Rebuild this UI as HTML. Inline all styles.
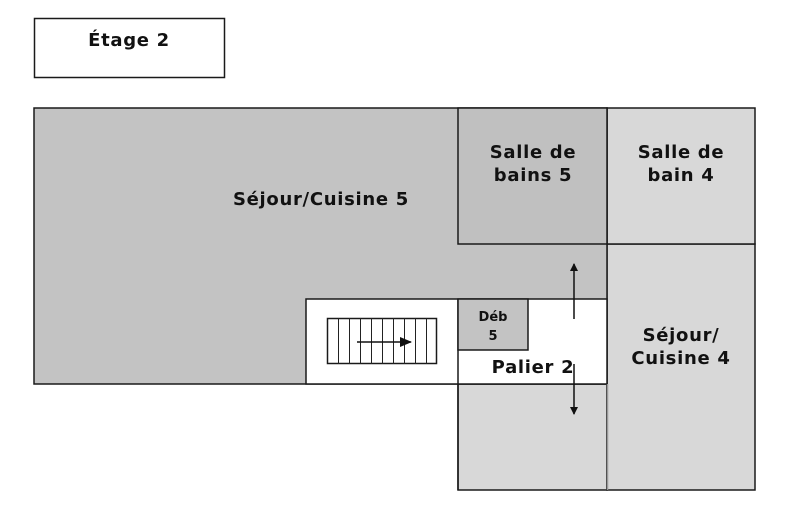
<!DOCTYPE html>
<html><head><meta charset="utf-8"><style>
html,body{margin:0;padding:0;background:#fff;width:800px;height:524px;overflow:hidden}
text{font-family:"DejaVu Sans","Liberation Sans",sans-serif;font-weight:bold;fill:#111}
.t{font-size:18px;letter-spacing:0.7px}
</style></head><body>
<svg width="800" height="524" viewBox="0 0 800 524" xmlns="http://www.w3.org/2000/svg">
<defs><marker id="a" markerWidth="8" markerHeight="8" refX="7" refY="4" orient="auto" markerUnits="userSpaceOnUse"><path d="M0,0 L8,4 L0,8 z" fill="#111"/></marker>
<marker id="b" markerWidth="12" markerHeight="10" refX="11" refY="5" orient="auto" markerUnits="userSpaceOnUse"><path d="M0,0 L12,5 L0,10 z" fill="#111"/></marker></defs>
<g stroke="#1a1a1a" stroke-width="1.5">
<rect x="34.5" y="18.5" width="190" height="59" fill="#fff"/>
<rect x="458" y="384" width="149" height="106" fill="#d8d8d8"/>
<rect x="607" y="244" width="148" height="246" fill="#d8d8d8"/>
<rect x="607" y="108" width="148" height="136" fill="#d8d8d8"/>
<rect x="34" y="108" width="573" height="276" fill="#c3c3c3"/>
<rect x="458" y="108" width="149" height="136" fill="#c0c0c0"/>
<rect x="306" y="299" width="301" height="85" fill="#fff"/>
<line x1="458" y1="299" x2="458" y2="490"/>
<rect x="458" y="299" width="70" height="51" fill="#c3c3c3"/>
<rect x="327.5" y="318.5" width="109" height="45" fill="#fff"/>
</g>
<line x1="607.5" y1="384" x2="607.5" y2="490" stroke="#999" stroke-width="1.5"/>
<g stroke="#222" stroke-width="1">
<line x1="338.5" y1="318" x2="338.5" y2="364"/><line x1="349.5" y1="318" x2="349.5" y2="364"/>
<line x1="360.5" y1="318" x2="360.5" y2="364"/><line x1="371.5" y1="318" x2="371.5" y2="364"/>
<line x1="382.5" y1="318" x2="382.5" y2="364"/><line x1="393.5" y1="318" x2="393.5" y2="364"/>
<line x1="404.5" y1="318" x2="404.5" y2="364"/><line x1="415.5" y1="318" x2="415.5" y2="364"/>
<line x1="426.5" y1="318" x2="426.5" y2="364"/>
</g>
<line x1="357" y1="342" x2="411" y2="342" stroke="#111" stroke-width="1.5" marker-end="url(#b)"/>
<line x1="574" y1="319" x2="574" y2="264" stroke="#111" stroke-width="1.5" marker-end="url(#a)"/>
<line x1="574" y1="364" x2="574" y2="414" stroke="#111" stroke-width="1.5" marker-end="url(#a)"/>
<text class="t" x="129" y="46" text-anchor="middle">Étage 2</text>
<text class="t" x="321" y="205" text-anchor="middle">Séjour/Cuisine 5</text>
<text class="t" x="533" y="158" text-anchor="middle">Salle de</text>
<text class="t" x="533" y="181" text-anchor="middle">bains 5</text>
<text class="t" x="681" y="158" text-anchor="middle">Salle de</text>
<text class="t" x="681" y="181" text-anchor="middle">bain 4</text>
<text class="t" x="681" y="341" text-anchor="middle">Séjour/</text>
<text class="t" x="681" y="364" text-anchor="middle">Cuisine 4</text>
<text x="493" y="321" font-size="13" text-anchor="middle">Déb</text>
<text x="493" y="340" font-size="13" text-anchor="middle">5</text>
<text class="t" x="533" y="373" text-anchor="middle">Palier 2</text>
</svg>
</body></html>
